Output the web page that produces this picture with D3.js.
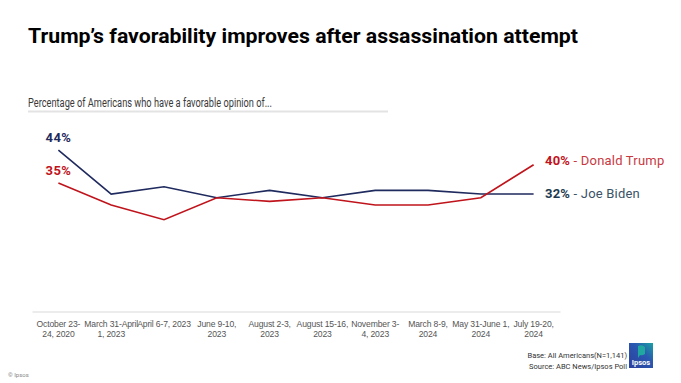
<!DOCTYPE html>
<html><head><meta charset="utf-8">
<script src="https://cdn.jsdelivr.net/npm/d3@7"></script>
<style>
html,body{margin:0;padding:0;background:#fff;}
svg{display:block;font-family:Roboto, "Noto Sans", sans-serif;}
</style></head>
<body>
<svg id="c" width="681" height="383"></svg>
<script>
const categories = [
  ["October 23-", "24, 2020"],
  ["March 31-April", "1, 2023"],
  ["April 6-7, 2023"],
  ["June 9-10,", "2023"],
  ["August 2-3,", "2023"],
  ["August 15-16,", "2023"],
  ["November 3-", "4, 2023"],
  ["March 8-9,", "2024"],
  ["May 31-June 1,", "2024"],
  ["July 19-20,", "2024"]
];
const biden = [44, 32, 34, 31, 33, 31, 33, 33, 32, 32];
const trump = [35, 29, 25, 31, 30, 31, 29, 29, 31, 40];
const seriesNames = ["Donald Trump", "Joe Biden"];
const titleText = "Trump\u2019s favorability improves after assassination attempt";
const subtitleText = "Percentage of Americans who have a favorable opinion of...";

const svg = d3.select("#c");
const navy = "#1f2a5e", red = "#c0141c";

// title
svg.append("text").attr("x", 28).attr("y", 43)
  .attr("font-size", 20).attr("font-weight", 700).attr("fill", "#000")
  .attr("textLength", 550).attr("lengthAdjust", "spacingAndGlyphs")
  .text(titleText);
svg.append("text").attr("x", 28).attr("y", 107)
  .attr("font-size", 12).attr("fill", "#3a3a3a")
  .attr("textLength", 244).attr("lengthAdjust", "spacingAndGlyphs")
  .text(subtitleText);
svg.append("line").attr("x1", 28).attr("x2", 388).attr("y1", 111.5).attr("y2", 111.5)
  .attr("stroke", "#e3e3e3").attr("stroke-width", 2);

const x = d3.scaleBand().domain(d3.range(categories.length)).range([32, 560]);
const y = d3.scaleLinear().domain([0, 50]).range([311.5, 128]);

// axis
const xAxis = d3.axisBottom(x).tickSize(0).tickFormat("");
const gx = svg.append("g").attr("transform", "translate(0,311.5)").call(xAxis);
gx.select(".domain").attr("stroke", "#e6e6e6").attr("stroke-width", 1.5);
gx.selectAll(".tick").each(function(d) {
  const t = d3.select(this).append("text").attr("fill", "#555").attr("font-size", 8.6)
    .attr("letter-spacing", -0.15).attr("text-anchor", "middle").attr("y", 15.5);
  categories[d].forEach((ln, i) => {
    t.append("tspan").attr("x", 0).attr("dy", i === 0 ? 0 : 10).text(ln);
  });
});

const line = d3.line().x((d, i) => x(i) + x.bandwidth() / 2).y(d => y(d));
svg.append("path").datum(biden).attr("d", line).attr("fill", "none")
  .attr("stroke", navy).attr("stroke-width", 1.6);
svg.append("path").datum(trump).attr("d", line).attr("fill", "none")
  .attr("stroke", red).attr("stroke-width", 1.6);

const cx0 = x(0) + x.bandwidth() / 2;
svg.append("text").attr("x", cx0).attr("y", y(biden[0]) - 8).attr("text-anchor", "middle")
  .attr("font-size", 13).attr("font-weight", 700).attr("letter-spacing", 0.4).attr("fill", navy).text(biden[0] + "%");
svg.append("text").attr("x", cx0).attr("y", y(trump[0]) - 8).attr("text-anchor", "middle")
  .attr("font-size", 13).attr("font-weight", 700).attr("letter-spacing", 0.4).attr("fill", red).text(trump[0] + "%");

const last = categories.length - 1;
const tl = svg.append("text").attr("x", 545).attr("y", y(trump[last]) + 0.5)
  .attr("font-size", 13).attr("letter-spacing", 0.2);
tl.append("tspan").attr("font-weight", 700).attr("fill", red).text(trump[last] + "%");
tl.append("tspan").attr("fill", "#c8393f").text(" - " + seriesNames[0]);
const bl = svg.append("text").attr("x", 545).attr("y", y(biden[last]) + 3.5)
  .attr("font-size", 13).attr("letter-spacing", 0.2);
bl.append("tspan").attr("font-weight", 700).attr("fill", "#1e3a4f").text(biden[last] + "%");
bl.append("tspan").attr("fill", "#3b5366").text(" - " + seriesNames[1]);

// footer
svg.append("text").attr("x", 8).attr("y", 377).attr("font-size", 6).attr("fill", "#888").text("\u00a9 Ipsos");
svg.append("text").attr("x", 627).attr("y", 358).attr("text-anchor", "end").attr("font-size", 7.5)
  .attr("fill", "#333").text("Base: All Americans(N=1,141)");
svg.append("text").attr("x", 627).attr("y", 369).attr("text-anchor", "end").attr("font-size", 7.5)
  .attr("fill", "#333").text("Source: ABC News/Ipsos Poll");

// logo
const defs = svg.append("defs");
const gr = defs.append("linearGradient").attr("id", "lg").attr("x1", "0").attr("y1", "1").attr("x2", "1").attr("y2", "0");
gr.append("stop").attr("offset", "0").attr("stop-color", "#2b3f9e");
gr.append("stop").attr("offset", "0.6").attr("stop-color", "#2a58b0");
gr.append("stop").attr("offset", "1").attr("stop-color", "#1aa3a3");
const lg = svg.append("g").attr("transform", "translate(629,343)");
lg.append("rect").attr("width", 24).attr("height", 25).attr("fill", "url(#lg)");
lg.append("path").attr("d", "M9,3 Q13,1 16,4 L16,11 Q13,13 11,12 L9,15 Z").attr("fill", "#1fa7a0");
lg.append("text").attr("x", 12).attr("y", 22).attr("text-anchor", "middle")
  .attr("font-size", 7.5).attr("font-weight", 700).attr("fill", "#fff").text("Ipsos");
</script>
</body></html>
